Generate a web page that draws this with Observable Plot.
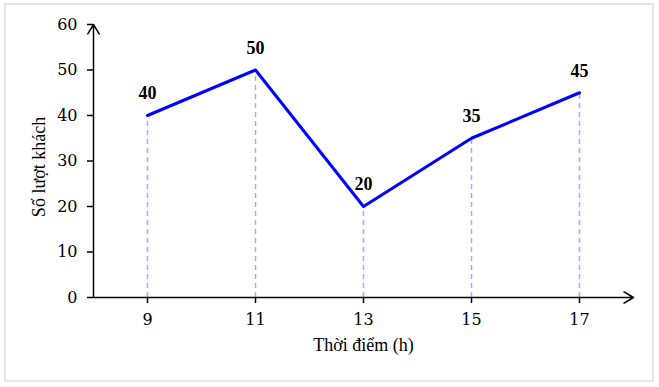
<!DOCTYPE html>
<html>
<head>
<meta charset="utf-8">
<script src="https://cdn.jsdelivr.net/npm/d3@7"></script>
<script src="https://cdn.jsdelivr.net/npm/@observablehq/plot@0.6"></script>
<style>
  html, body { margin: 0; padding: 0; background: #fff; }
  #wrap { position: relative; width: 659px; height: 387px; }
  #frame { position: absolute; left: 4px; top: 3px; width: 646px; height: 375px; border: 2px solid #e6e6e6; box-sizing: content-box; pointer-events: none; }
</style>
</head>
<body>
<div id="wrap"><div id="frame"></div></div>
<script>
const hours = [9, 11, 13, 15, 17];
const visitors = [40, 50, 20, 35, 45];
const yTicks = [0, 10, 20, 30, 40, 50, 60];
const xLabel = "Thời điểm (h)";
const yLabel = "Số lượt khách";

const data = hours.map((h, i) => ({hour: h, count: visitors[i]}));
const serif = "'Liberation Serif', 'Times New Roman', serif";
const tickFont = "'DejaVu Serif', serif";

const chart = Plot.plot({
  width: 659,
  height: 387,
  marginLeft: 93,
  marginRight: 26,
  marginTop: 24,
  marginBottom: 90,
  style: {fontFamily: serif, fontSize: "16px", color: "#000", background: "transparent"},
  x: {domain: [8, 18]},
  y: {domain: [0, 60]},
  marks: [
    Plot.ruleX(data, {x: "hour", y1: 0, y2: "count", stroke: "#a4acff", strokeWidth: 1.5, strokeDasharray: "5,4"}),
    Plot.arrow([{x1: 8, y1: 0, x2: 18, y2: 0}], {x1: "x1", y1: "y1", x2: "x2", y2: "y2", stroke: "#000", strokeWidth: 1.5, headLength: 11, headAngle: 62, bend: 0}),
    Plot.arrow([{x1: 8, y1: 0, x2: 8, y2: 60}], {x1: "x1", y1: "y1", x2: "x2", y2: "y2", stroke: "#000", strokeWidth: 1.5, headLength: 11, headAngle: 62, bend: 0}),
    Plot.axisY({ticks: yTicks, tickSize: 6, tickPadding: 10, fontSize: 16, fontFamily: tickFont, label: null, strokeWidth: 1.5}),
    Plot.axisX({ticks: hours, tickFormat: d => String(d), tickSize: 6, tickPadding: 10, fontSize: 16, fontFamily: tickFont, label: null, strokeWidth: 1.5}),
    Plot.line(data, {x: "hour", y: "count", stroke: "#0000ff", strokeWidth: 3}),
    Plot.text(data, {x: "hour", y: "count", text: d => String(d.count), dy: -22, fontSize: 18, fontWeight: "bold", fontFamily: serif, fill: "#000"}),
    Plot.text([xLabel], {frameAnchor: "bottom", dy: 53, fontSize: 18, fontFamily: serif, fill: "#000"}),
    Plot.text([yLabel], {frameAnchor: "left", textAnchor: "middle", rotate: -90, dx: -54, dy: 6, fontSize: 18, fontFamily: serif, fill: "#000"})
  ]
});
chart.style.position = "absolute";
chart.style.left = "0";
chart.style.top = "0";
document.getElementById("wrap").appendChild(chart);
</script>
</body>
</html>
